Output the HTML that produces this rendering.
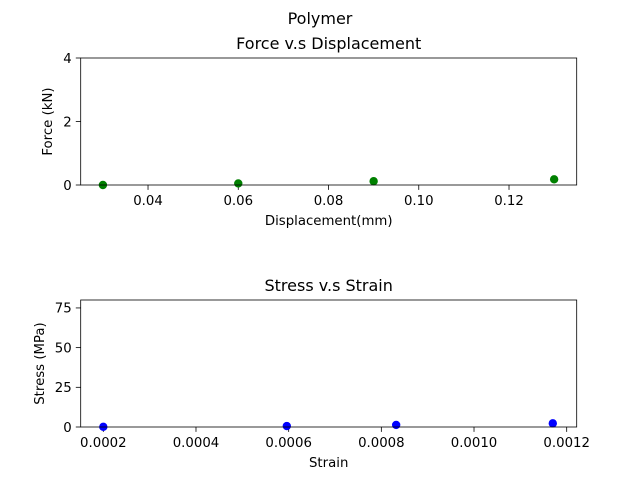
<!DOCTYPE html>
<html><head><meta charset="utf-8"><style>body{margin:0;background:#fff}svg{display:block;font-family:"DejaVu Sans","Liberation Sans",sans-serif}</style></head>
<body>
<svg id="c" width="640" height="480" viewBox="0 0 640 480"></svg>
<script>
const dispX = [0.03, 0.06, 0.09, 0.13];
const forceY = [0.0, 0.05, 0.12, 0.18];
const forceTicksX = [0.04, 0.06, 0.08, 0.10, 0.12];
const forceTickLabelsX = ["0.04","0.06","0.08","0.10","0.12"];
const forceTicksY = [0, 2, 4];
const strainX = [0.0002, 0.000596, 0.000832, 0.00117];
const stressY = [0.1, 0.6, 1.3, 2.3];
const strainTicksX = [0.0002, 0.0004, 0.0006, 0.0008, 0.0010, 0.0012];
const strainTickLabelsX = ["0.0002","0.0004","0.0006","0.0008","0.0010","0.0012"];
const stressTicksY = [0, 25, 50, 75];

const NS="http://www.w3.org/2000/svg", svg=document.getElementById('c');
function mk(t,a,txt){const e=document.createElementNS(NS,t);for(const k in a)e.setAttribute(k,a[k]);if(txt!==undefined)e.textContent=txt;svg.appendChild(e);return e;}
function panel(o){
  const L=80.7,R=576.7,T=o.top,B=o.top+127;
  const sx=v=>L+(v-o.xd[0])/(o.xd[1]-o.xd[0])*(R-L);
  const sy=v=>B-(v-o.yd[0])/(o.yd[1]-o.yd[0])*(B-T);
  let e=mk('text',{x:(L+R)/2,y:T-9,'text-anchor':'middle','font-size':16},o.title);
  
  
  o.xt.forEach((v,i)=>{const x=sx(v);
    e=mk('line',{x1:x,x2:x,y1:B,y2:B+4.9,stroke:'#000','stroke-width':0.8});
    
    
    e=mk('text',{x:x,y:B+20,'text-anchor':'middle','font-size':13.3},o.xl[i]);
    
    });
  o.yt.forEach(v=>{const y=sy(v);
    e=mk('line',{x1:L-4.9,x2:L,y1:y,y2:y,stroke:'#000','stroke-width':0.8});
    
    
    e=mk('text',{x:L-9,y:y+4.8,'text-anchor':'end','font-size':13.3},String(v));
    
    });
  e=mk('text',{x:(L+R)/2,y:B+40,'text-anchor':'middle','font-size':13.3},o.xlab);
  
  
  const yx=o.ylx,yy=(T+B)/2;
  e=mk('text',{x:yx,y:yy,'text-anchor':'middle','font-size':13.3,transform:`rotate(-90 ${yx} ${yy})`},o.ylab);
  
  
  o.x.forEach((v,i)=>{e=mk('circle',{cx:sx(v),cy:sy(o.y[i]),r:4.2,fill:o.color});
    
    });
  e=mk('rect',{x:L,y:T,width:R-L,height:B-T,fill:'none',stroke:'#000','stroke-width':0.8});
  
  
}
let s=mk('text',{x:320,y:24,'text-anchor':'middle','font-size':16},'Polymer');


panel({id:'force',top:58,xd:[0.02508,0.135],yd:[0,4],title:'Force v.s Displacement',xlab:'Displacement(mm)',ylab:'Force (kN)',ylx:52,x:dispX,y:forceY,xt:forceTicksX,xl:forceTickLabelsX,yt:forceTicksY,color:'#008000'});
panel({id:'stress',top:300,xd:[0.0001512,0.0012216],yd:[0,80],title:'Stress v.s Strain',xlab:'Strain',ylab:'Stress (MPa)',ylx:44,x:strainX,y:stressY,xt:strainTicksX,xl:strainTickLabelsX,yt:stressTicksY,color:'#0000ff'});
</script>
</body></html>
